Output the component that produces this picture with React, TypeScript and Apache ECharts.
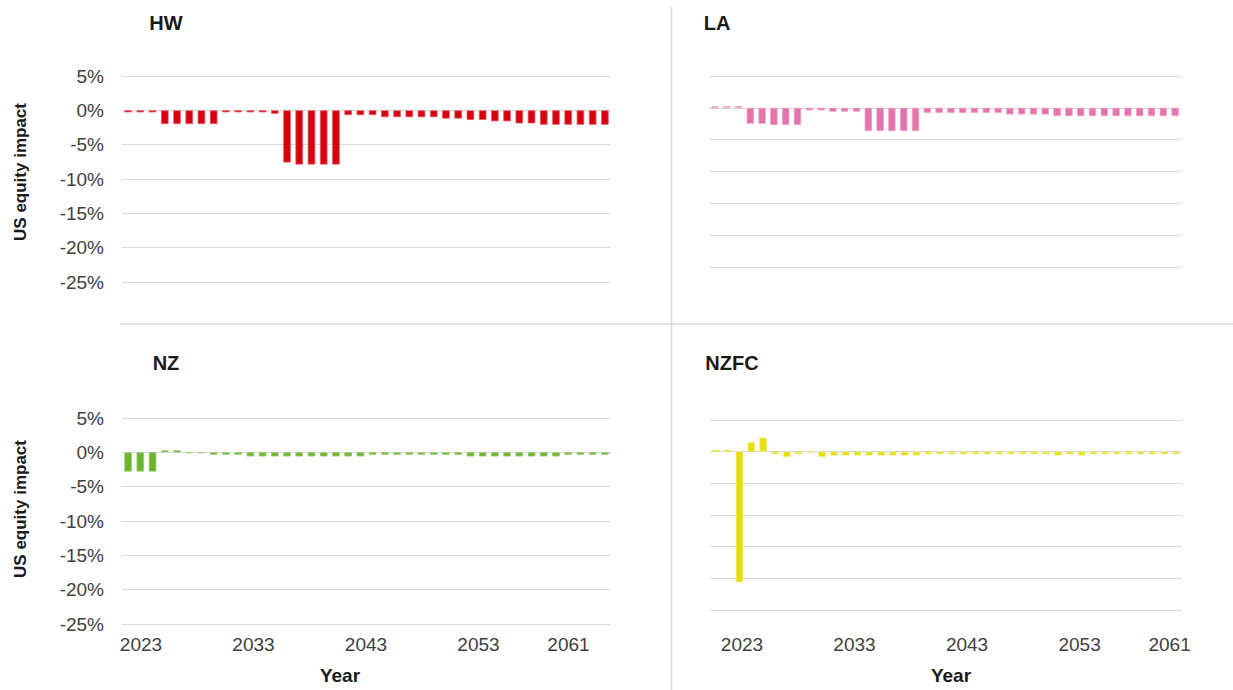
import React, { useEffect, useRef } from "react";
import * as echarts from "echarts";

// Projection years (one bar per year)
const years: string[] = [
  "2022", "2023", "2024", "2025", "2026", "2027", "2028", "2029", "2030", "2031",
  "2032", "2033", "2034", "2035", "2036", "2037", "2038", "2039", "2040", "2041",
  "2042", "2043", "2044", "2045", "2046", "2047", "2048", "2049", "2050", "2051",
  "2052", "2053", "2054", "2055", "2056", "2057", "2058", "2059", "2060", "2061",
];

// Year labels shown under the bottom panels
const tickYears: number[] = [2023, 2033, 2043, 2053, 2061];

// US equity impact (%) per scenario
const hw: number[] = [
  -0.3, -0.3, -0.3, -2.0, -2.0, -2.0, -2.0, -2.0, -0.3, -0.3,
  -0.3, -0.3, -0.5, -7.6, -7.9, -7.9, -7.9, -7.9, -0.7, -0.7,
  -0.7, -1.0, -1.0, -1.0, -1.0, -1.0, -1.2, -1.2, -1.4, -1.4,
  -1.6, -1.6, -1.9, -1.9, -2.1, -2.1, -2.1, -2.1, -2.1, -2.1,
];
const la: number[] = [
  0.25, 0.25, 0.25, -2.5, -2.5, -2.7, -2.7, -2.7, -0.4, -0.4,
  -0.6, -0.6, -0.6, -3.65, -3.65, -3.65, -3.65, -3.65, -0.8, -0.8,
  -0.8, -0.8, -0.8, -0.8, -0.8, -1.05, -1.05, -1.05, -1.05, -1.3,
  -1.3, -1.3, -1.3, -1.3, -1.3, -1.3, -1.3, -1.3, -1.3, -1.3,
];
const nz: number[] = [
  -2.8, -2.8, -2.8, 0.3, 0.3, -0.1, -0.1, -0.35, -0.35, -0.35,
  -0.6, -0.6, -0.6, -0.6, -0.6, -0.6, -0.6, -0.6, -0.6, -0.6,
  -0.35, -0.35, -0.35, -0.35, -0.35, -0.35, -0.35, -0.35, -0.6, -0.6,
  -0.6, -0.6, -0.6, -0.6, -0.6, -0.6, -0.35, -0.35, -0.35, -0.35,
];
const nzfc: number[] = [
  0.3, 0.3, -20.6, 1.5, 2.2, -0.4, -0.85, -0.4, -0.1, -0.85,
  -0.6, -0.6, -0.6, -0.6, -0.6, -0.6, -0.6, -0.6, -0.4, -0.4,
  -0.4, -0.4, -0.4, -0.4, -0.4, -0.4, -0.4, -0.4, -0.4, -0.6,
  -0.4, -0.6, -0.4, -0.4, -0.4, -0.4, -0.4, -0.4, -0.4, -0.4,
];

const panelNames = ["HW", "LA", "NZ", "NZFC"];
const panelData = [hw, la, nz, nzfc];
const panelColors = ["#d6000f", "#e374ab", "#6bb52e", "#e6e000"];
const panelRims = ["#e65c66", "#eda0c6", "#98cc6e", "#eeea66"];

const FONT = "'Liberation Sans', Arial, Helvetica, sans-serif";
const GRID_COLOR = "#d9d9d9";

// Plot areas: [left, top, width, height]
const grids = [
  [122, 76, 489, 206],
  [709, 76, 472, 191],
  [122, 418, 489, 206],
  [710, 420, 472, 190],
];
// Year scale extents for the label axes of the bottom panels
const yearExtents = [
  [2021.31, 2064.78],
  [2020.16, 2062.1],
];

export default function App() {
  const ref = useRef<HTMLDivElement>(null);

  useEffect(() => {
    if (!ref.current) return;
    const chart = echarts.init(ref.current, undefined, { renderer: "svg" });

    const xAxes: any[] = grids.map((_, i) => ({
      gridIndex: i,
      type: "category",
      data: years,
      axisLine: { show: false },
      axisTick: { show: false },
      axisLabel: { show: false },
      splitLine: { show: false },
    }));
    [2, 3].forEach((gi, k) => {
      xAxes.push({
        gridIndex: gi,
        type: "value",
        position: "bottom",
        min: yearExtents[k][0],
        max: yearExtents[k][1],
        axisLine: { show: false },
        axisTick: { show: false },
        splitLine: { show: false },
        axisLabel: {
          customValues: tickYears,
          formatter: (v: number) => String(Math.round(v)),
          fontFamily: FONT,
          fontSize: 19,
          color: "#404040",
          margin: k === 0 ? 11 : 25,
        },
      });
    });

    const yAxes = grids.map((_, i) => ({
      gridIndex: i,
      type: "value",
      min: -25,
      max: 5,
      interval: 5,
      axisLine: { show: false },
      axisTick: { show: false },
      splitLine: { lineStyle: { color: GRID_COLOR, width: 1 } },
      axisLabel: {
        show: i % 2 === 0,
        formatter: "{value}%",
        fontFamily: FONT,
        fontSize: 19,
        color: "#404040",
        margin: 18,
        padding: [0, 0, 5, 0],
      },
    }));

    const series = panelData.map((d, i) => ({
      name: panelNames[i],
      type: "bar",
      xAxisIndex: i,
      yAxisIndex: i,
      data: d,
      barWidth: "62%",
      itemStyle: { color: panelColors[i], borderColor: panelRims[i], borderWidth: 0.8 },
    }));

    const titleText = (text: string, x: number, y: number) => ({
      type: "text",
      x,
      y,
      style: {
        text,
        align: "center",
        verticalAlign: "middle",
        font: `bold 20px ${FONT}`,
        fill: "#1a1a1a",
      },
    });
    const axisTitle = (text: string, x: number, y: number, rotated: boolean) => ({
      type: "text",
      x,
      y,
      rotation: rotated ? Math.PI / 2 : 0,
      style: {
        text,
        align: "center",
        verticalAlign: "middle",
        font: `bold ${rotated ? 17 : 19}px ${FONT}`,
        fill: "#1a1a1a",
      },
    });

    chart.setOption({
      animation: false,
      backgroundColor: "#ffffff",
      grid: grids.map(([left, top, width, height]) => ({ left, top, width, height })),
      xAxis: xAxes,
      yAxis: yAxes,
      series,
      graphic: [
        {
          type: "line",
          shape: { x1: 120, y1: 324, x2: 1233, y2: 324 },
          style: { stroke: GRID_COLOR, lineWidth: 1.5 },
        },
        {
          type: "line",
          shape: { x1: 671.5, y1: 7, x2: 671.5, y2: 690 },
          style: { stroke: GRID_COLOR, lineWidth: 1.5 },
        },
        titleText(panelNames[0], 166, 23),
        titleText(panelNames[1], 717, 23),
        titleText(panelNames[2], 166, 363),
        titleText(panelNames[3], 732, 363),
        axisTitle("US equity impact", 20, 172, true),
        axisTitle("US equity impact", 20, 509, true),
        axisTitle("Year", 340, 675, false),
        axisTitle("Year", 951, 675, false),
      ],
    });

    return () => chart.dispose();
  }, []);

  return (
    <div
      ref={ref}
      style={{ position: "absolute", left: 0, top: 0, width: 1233, height: 690, background: "#fff" }}
    />
  );
}
